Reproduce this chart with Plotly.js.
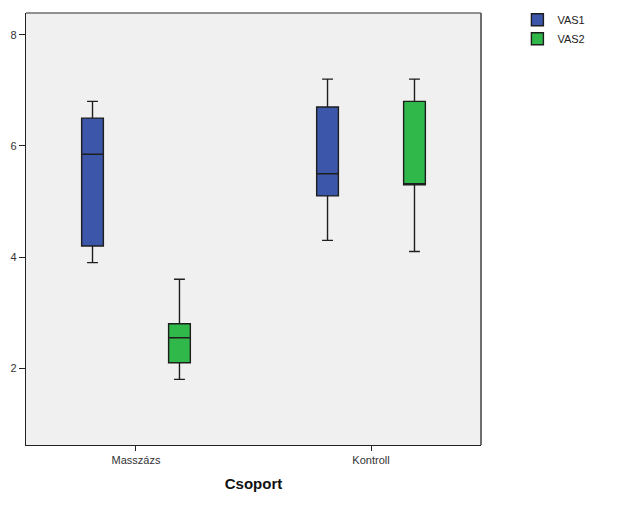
<!DOCTYPE html>
<html>
<head>
<meta charset="utf-8">
<script src="https://cdn.plot.ly/plotly-3.0.1.min.js"></script>
<style>html,body{margin:0;padding:0;background:#fff;}#chart{width:641px;height:512px;}</style>
</head>
<body>
<div id="chart"></div>
<script>
const categories = ["Masszázs", "Kontroll"];
const seriesNames = ["VAS1", "VAS2"];
const vas1Lower = [3.9, 4.3];
const vas1Q1 = [4.2, 5.1];
const vas1Median = [5.85, 5.5];
const vas1Q3 = [6.5, 6.7];
const vas1Upper = [6.8, 7.2];
const vas2Lower = [1.8, 4.1];
const vas2Q1 = [2.1, 5.3];
const vas2Median = [2.55, 5.3];
const vas2Q3 = [2.8, 6.8];
const vas2Upper = [3.6, 7.2];
const yTicks = [2, 4, 6, 8];

const colors = ["#3c56a9", "#30b84b"];

function boxTrace(name, lo, q1, med, q3, up, color) {
  return {
    type: "box",
    name: name,
    x: categories,
    q1: q1, median: med, q3: q3,
    lowerfence: lo, upperfence: up,
    fillcolor: color,
    line: {color: "#1e1e1e", width: 1.4},
    whiskerwidth: 0.5,
    boxpoints: false,
    hoverinfo: "skip"
  };
}

const data = [
  boxTrace(seriesNames[0], vas1Lower, vas1Q1, vas1Median, vas1Q3, vas1Upper, colors[0]),
  boxTrace(seriesNames[1], vas2Lower, vas2Q1, vas2Median, vas2Q3, vas2Upper, colors[1])
];

const layout = {
  width: 641, height: 512,
  margin: {l: 26, r: 160, t: 13, b: 67, autoexpand: false},
  paper_bgcolor: "#ffffff",
  plot_bgcolor: "#f0f0f0",
  font: {family: "Liberation Sans, Arial, sans-serif", size: 11, color: "#333333"},
  boxmode: "group",
  boxgap: 0.26,
  boxgroupgap: 0.75,
  showlegend: true,
  legend: {
    x: 1.08, y: 1.018, xanchor: "left", yanchor: "top",
    font: {size: 11, color: "#222222"},
    bgcolor: "rgba(0,0,0,0)",
    tracegroupgap: 0, itemwidth: 30
  },
  xaxis: {
    type: "category",
    range: [-0.468, 1.468],
    showgrid: false, zeroline: false,
    showline: true, linecolor: "#222222", linewidth: 1.2,
    ticks: "outside", ticklen: 5, tickcolor: "#222222",
    tickfont: {size: 11, color: "#333333"},
    title: {text: "Csoport", font: {size: 15, color: "#111111", family: "Liberation Sans, Arial, sans-serif", weight: "bold"}, standoff: 13}
  },
  yaxis: {
    range: [0.62, 8.39],
    tickvals: yTicks,
    showgrid: false, zeroline: false,
    showline: true, linecolor: "#222222", linewidth: 1.2,
    ticks: "outside", ticklen: 6, tickcolor: "#222222",
    tickfont: {size: 11, color: "#333333"}
  },
  shapes: [
    {type: "line", xref: "paper", yref: "paper", x0: 0, x1: 1, y0: 1, y1: 1, line: {color: "#6e6e6e", width: 1.5}},
    {type: "line", xref: "paper", yref: "paper", x0: 1, x1: 1, y0: 0, y1: 1, line: {color: "#6e6e6e", width: 2}}
  ]
};

Plotly.newPlot("chart", data, layout, {displayModeBar: false, staticPlot: true});
</script>
</body>
</html>
